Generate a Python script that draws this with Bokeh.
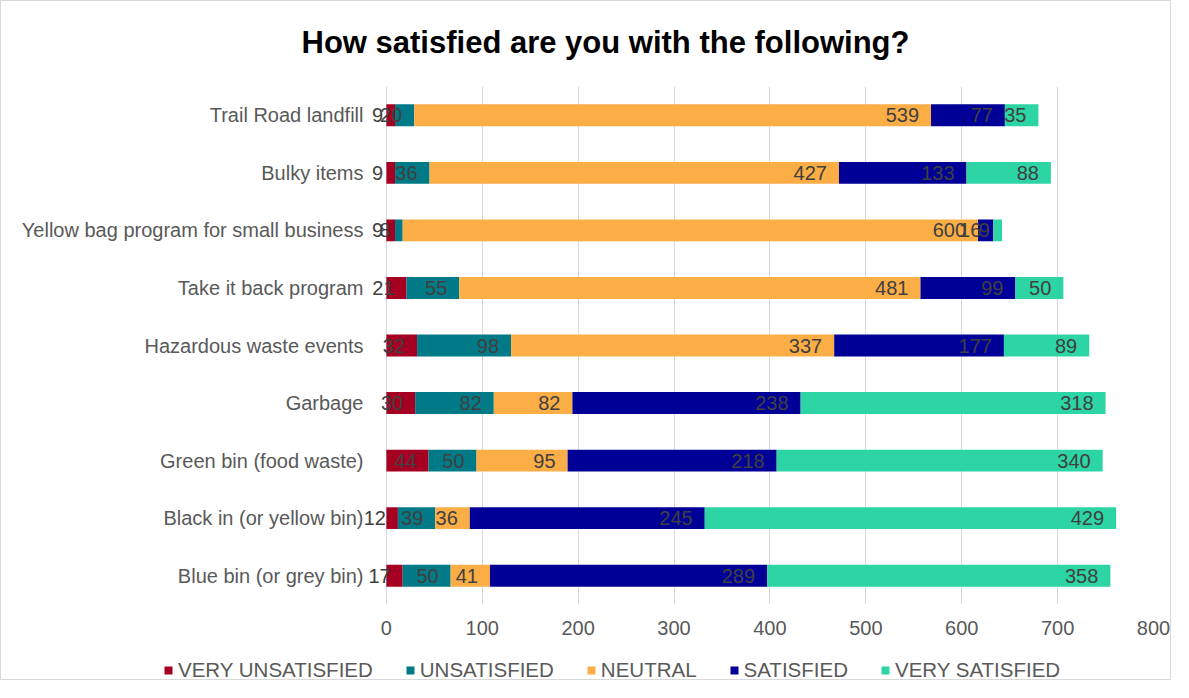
from bokeh.plotting import figure
from bokeh.models import (ColumnDataSource, FactorRange, Legend, LegendItem, Range1d,
                          FixedTicker, LabelSet)
from bokeh.core.properties import value
from bokeh.layouts import column
from bokeh.embed import file_html
from bokeh.resources import INLINE

categories = ["Trail Road landfill", "Bulky items", "Yellow bag program for small business",
              "Take it back program", "Hazardous waste events", "Garbage",
              "Green bin (food waste)", "Black in (or yellow bin)", "Blue bin (or grey bin)"]
very_unsatisfied = [9, 9, 9, 21, 32, 30, 44, 12, 17]
unsatisfied = [20, 36, 8, 55, 98, 82, 50, 39, 50]
neutral = [539, 427, 600, 481, 337, 82, 95, 36, 41]
satisfied = [77, 133, 16, 99, 177, 238, 218, 245, 289]
very_satisfied = [35, 88, 9, 50, 89, 318, 340, 429, 358]

title_text = "How satisfied are you with the following?"
series_names = ["VERY UNSATISFIED", "UNSATISFIED", "NEUTRAL", "SATISFIED", "VERY SATISFIED"]
series_keys = ["vu", "u", "n", "s", "vs"]
colors = ["#A50021", "#007A87", "#FBAD46", "#000096", "#2CD5A3"]
x_ticks = [0, 100, 200, 300, 400, 500, 600, 700, 800]

FONT = "Liberation Sans"
W = 1171
H_TITLE = 70
H_MAIN = 574
H_LEG = 36
BORDER = "1px solid #d9d9d9"


def strip(height, sides):
    f = figure(width=W, height=height, output_backend="svg", toolbar_location=None,
               x_range=Range1d(0, W), y_range=Range1d(0, height), frame_align=False,
               min_border_left=0, min_border_right=0, min_border_top=0, min_border_bottom=0)
    f.axis.visible = False
    f.grid.visible = False
    f.outline_line_color = None
    f.styles = {s: BORDER for s in sides}
    return f


# title strip
tf = strip(H_TITLE, ["border-top", "border-left", "border-right"])
tf.text(x=[604], y=[H_TITLE - 41], text=[title_text], text_align="center", text_baseline="middle",
        text_font=value(FONT), text_font_size="31px", text_font_style="bold", text_color="#000000")

data = dict(cat=categories, vu=very_unsatisfied, u=unsatisfied, n=neutral, s=satisfied, vs=very_satisfied)
src = ColumnDataSource(data)

# frame starts a little left of x=0 so that small labels left of the axis stay visible
p = figure(width=W, height=H_MAIN, output_backend="svg", toolbar_location=None,
           y_range=FactorRange(*list(reversed(categories)), range_padding=0),
           x_range=Range1d(-27, 800), frame_align=False,
           min_border_left=359, min_border_right=19, min_border_top=16, min_border_bottom=40)
p.styles = {"border-left": BORDER, "border-right": BORDER}

renderers = p.hbar_stack(series_keys, y="cat", height=0.38, color=colors, source=src, line_width=0)

# data labels at the inside end of each segment
cum = [0] * len(categories)
vals = [very_unsatisfied, unsatisfied, neutral, satisfied, very_satisfied]
for v in vals:
    ends = [c + x for c, x in zip(cum, v)]
    lsrc = ColumnDataSource(dict(x=ends, y=categories, t=[str(x) for x in v]))
    p.add_layout(LabelSet(x="x", y="y", text="t", source=lsrc, text_align="right",
                          text_baseline="middle", x_offset=-12, text_font=value(FONT),
                          text_font_size=value("20px"), text_color=value("#404040")))
    cum = ends

p.xaxis.ticker = FixedTicker(ticks=x_ticks)
p.xaxis.axis_line_color = None
p.xaxis.major_tick_line_color = None
p.xaxis.minor_tick_line_color = None
p.xaxis.major_label_text_font = FONT
p.xaxis.major_label_text_font_size = "20px"
p.xaxis.major_label_text_color = "#595959"
p.xaxis.major_label_standoff = 10

p.yaxis.axis_line_color = None
p.yaxis.major_tick_line_color = None
p.yaxis.minor_tick_line_color = None
p.yaxis.major_label_text_font = FONT
p.yaxis.major_label_text_font_size = "20px"
p.yaxis.major_label_text_color = "#595959"
p.yaxis.major_label_standoff = -9

p.xgrid.grid_line_color = "#d9d9d9"
p.ygrid.grid_line_color = None
p.outline_line_color = None

# legend strip below the chart (zero-size swatch renderers)
lg = strip(H_LEG, ["border-bottom", "border-left", "border-right"])
swatches = [lg.hbar(y=[H_LEG / 2], left=[0], right=[0], height=0, fill_color=c, line_color=None)
            for c in colors]
legend = Legend(items=[LegendItem(label=n, renderers=[r]) for n, r in zip(series_names, swatches)],
                orientation="horizontal", location=(162, -2),
                glyph_width=10, glyph_height=10, label_standoff=5, spacing=32,
                label_text_font=FONT, label_text_font_size="20.5px", label_text_color="#595959",
                border_line_color=None, background_fill_alpha=0, padding=0, margin=0)
lg.add_layout(legend, "center")

layout = column(tf, p, lg, spacing=0)

open("out.html", "w").write(file_html(layout, INLINE))
